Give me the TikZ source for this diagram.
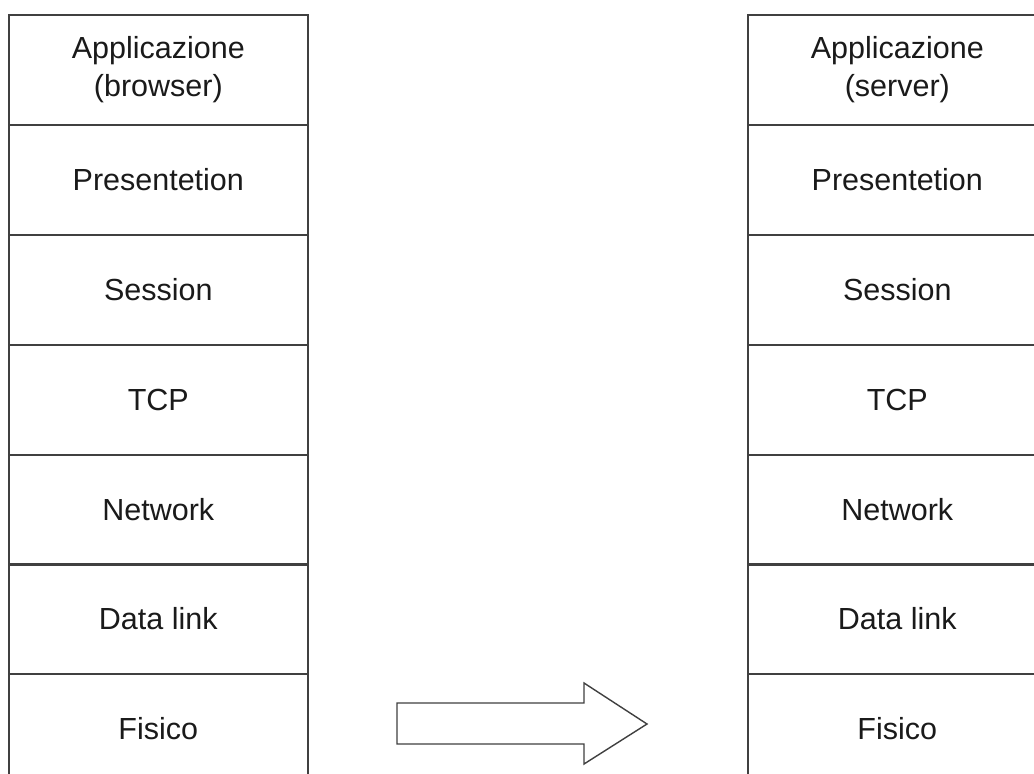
\documentclass[tikz,border=0pt]{standalone}
\usepackage{fontspec}
\setmainfont{Liberation Sans}
\definecolor{linegray}{HTML}{404040}
\definecolor{txt}{HTML}{1A1A1A}
\begin{document}
\begin{tikzpicture}[x=1pt,y=-1pt,
  layer/.style={draw=linegray, line width=1.6pt, minimum width=299pt, minimum height=110pt,
    inner sep=0pt, align=center, font=\fontsize{30.5}{38}\selectfont, text=txt, anchor=north west},
  blockarrow/.style={draw=linegray, line width=1.4pt, fill=white, line join=miter}
]
\useasboundingbox (0,0) rectangle (1034,774);
\clip (0,0) rectangle (1034,774);
\fill[white] (0,0) rectangle (1034,774);
% left stack
\node[layer] (lA) at (8,14) {Applicazione\\(browser)};
\node[layer] (lP) at (8,124) {Presentetion};
\node[layer] (lS) at (8,234) {Session};
\node[layer] (lT) at (8,344) {TCP};
\node[layer] (lN) at (8,454) {Network};
\node[layer] (lD) at (8,563) {Data link};
\node[layer] (lF) at (8,673) {Fisico};
% right stack
\node[layer] (rA) at (747,14) {Applicazione\\(server)};
\node[layer] (rP) at (747,124) {Presentetion};
\node[layer] (rS) at (747,234) {Session};
\node[layer] (rT) at (747,344) {TCP};
\node[layer] (rN) at (747,454) {Network};
\node[layer] (rD) at (747,563) {Data link};
\node[layer] (rF) at (747,673) {Fisico};
% block arrow
\draw[blockarrow] (397,703) -- (584,703) -- (584,683) -- (647,724) -- (584,764) -- (584,744) -- (397,744) -- cycle;
\end{tikzpicture}
\end{document}
